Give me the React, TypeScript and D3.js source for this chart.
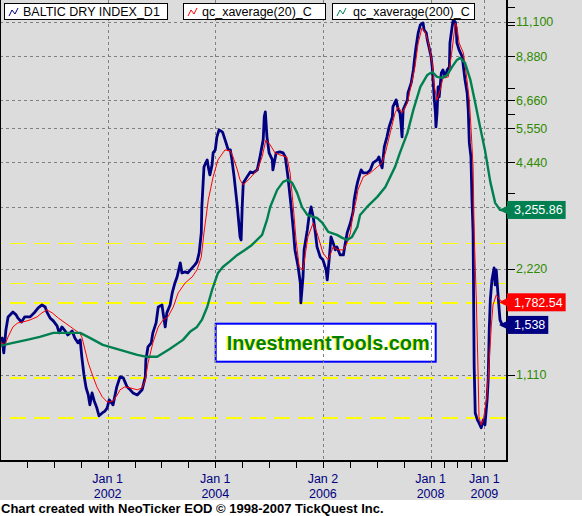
import React from 'react';
import * as d3 from 'd3';

// ---------- DATA (decimal year, index value) ----------
const bdiSeries: [number, number][] = [
  [2000.00,1395],[2000.04,1413],[2000.07,1282],[2000.11,1489],[2000.15,1620],[2000.24,1674],[2000.30,1642],[2000.33,1610],[2000.40,1568],[2000.46,1621],[2000.56,1621],[2000.65,1674],[2000.71,1719],[2000.78,1752],[2000.84,1729],[2000.87,1674],[2000.93,1610],[2000.99,1579],
  [2001.06,1528],[2001.10,1460],[2001.15,1518],[2001.21,1479],[2001.26,1441],[2001.34,1479],[2001.39,1413],[2001.45,1368],[2001.49,1395],[2001.52,1249],[2001.56,1110],[2001.60,1020],[2001.64,974],[2001.67,913],[2001.71,987],[2001.75,937],[2001.80,894],[2001.84,850],[2001.90,866],[2001.95,877],[2001.99,894],
  [2002.03,943],[2002.06,931],[2002.10,913],[2002.17,1027],[2002.23,1096],[2002.29,1089],[2002.36,1027],[2002.42,1007],[2002.47,987],[2002.55,974],[2002.64,1007],[2002.70,1096],[2002.71,1224],[2002.75,1333],[2002.81,1368],[2002.84,1460],[2002.90,1558],[2002.94,1729],
  [2003.01,1752],[2003.03,1664],[2003.07,1518],[2003.10,1664],[2003.16,1752],[2003.20,1895],[2003.25,2022],[2003.29,2103],[2003.35,2305],[2003.38,2159],[2003.44,2173],[2003.49,2159],[2003.57,2231],[2003.62,2275],[2003.66,2320],[2003.70,2460],[2003.74,2803],[2003.75,3321],[2003.79,4312],[2003.85,4513],[2003.87,4312],[2003.90,4093],[2003.94,4369],[2003.96,4724],
  [2004.00,4818],[2004.03,5246],[2004.07,5490],[2004.13,5419],[2004.14,5383],[2004.20,5042],[2004.24,4818],[2004.28,4818],[2004.31,4513],[2004.35,4040],[2004.41,3321],[2004.46,2731],[2004.48,2678],[2004.50,3321],[2004.52,3884],[2004.59,4040],[2004.65,4173],[2004.70,4145],[2004.78,4228],[2004.83,4602],[2004.89,5143],[2004.91,5974],[2004.93,6174],[2004.96,5246],
  [2005.00,4724],[2005.06,4513],[2005.07,4228],[2005.13,4724],[2005.20,4755],[2005.26,4724],[2005.30,4602],[2005.35,4040],[2005.41,3321],[2005.45,2859],[2005.48,2509],[2005.54,2245],[2005.58,2022],[2005.59,1775],[2005.63,2103],[2005.65,2509],[2005.71,2859],[2005.74,3110],[2005.78,3321],[2005.82,3110],[2005.86,2803],[2005.89,2558],[2005.95,2396],
  [2006.00,2350],[2006.06,2202],[2006.08,2063],[2006.12,2396],[2006.15,2731],[2006.19,2626],[2006.23,2509],[2006.26,2558],[2006.32,2428],[2006.38,2428],[2006.41,2592],[2006.45,2803],[2006.51,2991],[2006.56,3216],[2006.58,3477],[2006.62,3760],[2006.65,3935],[2006.71,4228],[2006.75,4145],[2006.82,4145],[2006.88,4228],[2006.93,4426],
  [2007.01,4513],[2007.04,4602],[2007.08,4369],[2007.10,4284],[2007.14,4913],[2007.19,5246],[2007.23,5598],[2007.29,5974],[2007.30,6378],[2007.36,6676],[2007.40,6255],[2007.43,6133],[2007.45,5746],[2007.47,5246],[2007.49,6255],[2007.57,6676],[2007.58,6986],[2007.64,7458],[2007.68,8119],[2007.70,8666],[2007.73,9431],[2007.77,10333],[2007.81,10885],[2007.86,11028],[2007.88,10536],[2007.92,10333],[2007.94,9873],[2007.97,9431],
  [2008.01,8836],[2008.03,8279],[2008.05,7458],[2008.07,6676],[2008.09,6133],[2008.10,5598],[2008.12,6133],[2008.14,7268],[2008.16,6806],[2008.20,7960],[2008.23,8119],[2008.27,7757],[2008.31,8119],[2008.35,8279],[2008.36,9681],[2008.40,10745],[2008.42,11246],[2008.46,11100],[2008.48,10333],[2008.49,9681],[2008.53,9250],[2008.59,8836],[2008.61,8279],[2008.64,7606],[2008.68,6986],[2008.70,6255],[2008.72,5042],[2008.75,4602],[2008.77,3477],[2008.79,2803],[2008.80,1810],[2008.81,1170],[2008.83,866],[2008.87,828],[2008.90,812],[2008.94,786],[2008.98,828],
  [2009.01,801],[2009.05,943],[2009.07,1074],[2009.09,1489],[2009.11,1810],[2009.14,2063],[2009.18,2231],[2009.20,1996],[2009.22,2202],[2009.26,1810],[2009.29,1589],[2009.33,1538],[2009.39,1538]
];

const ema20Series: [number, number][] = [
  [2000.00,1377],[2000.09,1350],[2000.15,1422],[2000.24,1518],[2000.33,1558],[2000.43,1568],[2000.56,1589],[2000.69,1621],[2000.78,1664],[2000.87,1696],[2000.97,1664],
  [2001.08,1610],[2001.21,1558],[2001.34,1508],[2001.49,1450],[2001.52,1422],[2001.58,1307],[2001.64,1200],[2001.73,1096],[2001.80,1027],[2001.90,962],[2001.99,931],
  [2002.04,931],[2002.10,937],[2002.19,980],[2002.23,1007],[2002.32,1027],[2002.42,1020],[2002.55,1007],[2002.64,1020],[2002.70,1074],[2002.75,1200],[2002.84,1368],[2002.94,1518],
  [2003.03,1589],[2003.12,1621],[2003.22,1729],[2003.31,1895],[2003.44,2022],[2003.57,2103],[2003.66,2202],[2003.74,2396],[2003.79,2803],[2003.87,3477],[2003.96,4040],
  [2004.05,4513],[2004.18,4818],[2004.28,4787],[2004.33,4602],[2004.41,4228],[2004.46,3961],[2004.52,3834],[2004.65,4013],[2004.78,4228],[2004.87,4602],[2004.94,5143],
  [2005.02,4977],[2005.11,4724],[2005.20,4663],[2005.33,4602],[2005.39,4145],[2005.45,3321],[2005.50,2678],[2005.56,2245],[2005.63,2202],[2005.72,2731],[2005.82,2991],[2005.89,2803],
  [2006.00,2460],[2006.10,2350],[2006.19,2558],[2006.28,2509],[2006.38,2509],[2006.45,2626],[2006.51,2803],[2006.56,3194],[2006.62,3477],[2006.65,3711],[2006.75,4040],[2006.88,4145],
  [2007.01,4312],[2007.10,4426],[2007.16,4724],[2007.25,5383],[2007.34,6133],[2007.40,6378],[2007.47,6133],[2007.57,6546],[2007.62,7126],[2007.71,8279],[2007.77,9681],[2007.84,10673],[2007.90,10398],[2007.96,9681],
  [2008.03,8495],[2008.07,7268],[2008.12,6676],[2008.18,7126],[2008.23,7706],[2008.33,7757],[2008.40,9250],[2008.46,11028],[2008.49,10745],[2008.53,9681],[2008.61,9070],[2008.66,7960],[2008.72,6676],[2008.75,5598],[2008.79,4312],[2008.81,2803],[2008.85,1810],[2008.88,1170],[2008.90,844],[2008.94,801],[2008.98,828],
  [2009.01,883],[2009.05,974],[2009.09,1224],[2009.13,1538],[2009.16,1752],[2009.22,1870],[2009.29,1810],[2009.35,1782.54]
];

const ema200Series: [number, number][] = [
  [2000.00,1341],[2000.24,1368],[2000.50,1395],[2000.74,1422],[2000.99,1460],[2001.25,1460],[2001.49,1460],[2001.67,1413],[2001.91,1350],
  [2002.23,1307],[2002.55,1265],[2002.73,1249],[2002.92,1249],[2003.16,1316],[2003.40,1395],[2003.53,1470],[2003.66,1518],[2003.75,1589],[2003.85,1729],[2003.94,1932],
  [2004.05,2159],[2004.14,2245],[2004.28,2335],[2004.41,2428],[2004.55,2509],[2004.68,2592],[2004.87,2767],[2004.96,3051],[2005.02,3321],[2005.15,3711],[2005.26,3910],[2005.35,3961],[2005.43,3884],[2005.52,3640],[2005.61,3321],[2005.71,3152],[2005.82,3110],[2005.89,3091],[2005.99,2991],
  [2006.10,2822],[2006.26,2767],[2006.36,2713],[2006.45,2678],[2006.54,2731],[2006.64,2915],[2006.69,3152],[2006.82,3321],[2007.01,3546],[2007.16,3784],[2007.34,4312],[2007.43,4724],[2007.57,5383],[2007.68,6255],[2007.81,7268],[2007.94,7858],
  [2008.03,8013],[2008.12,7757],[2008.22,7706],[2008.31,7858],[2008.40,8279],[2008.49,8666],[2008.55,8780],[2008.64,8495],[2008.74,7606],[2008.83,6546],[2008.92,5598],[2009.01,4818],[2009.11,3910],[2009.20,3410],[2009.29,3257],[2009.33,3255.86]
];

const legendNames = ['BALTIC DRY INDEX_D1', 'qc_xaverage(20)_C', 'qc_xaverage(200)_C'];
const priceTicks = [1110, 2220, 3330, 4440, 5550, 6660, 8880, 11100];
const priceLabels = [1110, 2220, 4440, 5550, 6660, 8880, 11100];
const priceMinorTicks = [12210, 10880, 7210, 6100, 3630];
const yearMajorTicks = [2002, 2004, 2006, 2008, 2009];
const yearTickDay = ['Jan 1', 'Jan 1', 'Jan 2', 'Jan 1', 'Jan 1'];
const yearMinorTicks = [2000.5, 2001, 2001.5, 2002.5, 2003, 2003.5, 2004.5, 2005, 2005.5, 2006.5, 2007, 2007.5, 2008.25, 2008.5, 2008.75];
const guideThin = [2626, 2023];
const guideThick = [1770, 1088, 838];
const watermark = 'InvestmentTools.com';
const footer = 'Chart created with NeoTicker EOD \u00A9 1998-2007 TickQuest Inc.';

// ---------- LAYOUT ----------
const W = 582, H = 516;
const PR = 507, PB = 461;
const FONT = "'Liberation Sans', Arial, Helvetica, sans-serif";
const BLUE = '#000080', RED = '#ff0000', GREEN = '#008050';

const textW = (s: string, size: number) => {
  let w = 0;
  for (const c of s) w += (c === ',' || c === '.') ? 0.278 : 0.556;
  return w * size;
};

export default function App() {
  const x = d3.scaleLinear().domain([2000, 2009.42]).range([0, PR]);
  const y = d3.scaleLog().domain([633, 12809]).range([PB, 0]);
  const line = d3.line<[number, number]>().x(d => x(d[0])).y(d => y(d[1]));

  const fmtInt = d3.format(',');
  const fmt2 = d3.format(',.2f');

  const lastBdi = bdiSeries[bdiSeries.length - 1][1];
  const last20 = ema20Series[ema20Series.length - 1][1];
  const last200 = ema200Series[ema200Series.length - 1][1];
  const tags = [
    { v: last200, text: fmt2(last200), color: GREEN },
    { v: last20, text: fmt2(last20), color: RED },
    { v: lastBdi, text: fmtInt(lastBdi), color: BLUE },
  ];

  const legendBoxes = [
    { x: 4, w: 163, tx: 23, color: BLUE },
    { x: 183, w: 142, tx: 202, color: RED },
    { x: 332, w: 142, tx: 353, color: GREEN },
  ];

  return (
    <svg width={W} height={H} style={{ position: 'absolute', left: 0, top: 0, display: 'block' }} fontFamily={FONT}>
      <rect x={0} y={0} width={W} height={H} fill="#dcdcdc" />
      <rect x={0} y={500} width={W} height={H - 500} fill="#ffffff" />

      {/* watermark box */}
      <rect x={215.7} y={323.7} width={220} height={38} fill="#ffffff" stroke="#0000ff" strokeWidth={2} />
      <text x={225.7} y={350} fontSize={20} fontWeight="bold" fill="#ffff00" textLength={203} lengthAdjust="spacingAndGlyphs">{watermark}</text>
      <text x={226.7} y={350} fontSize={20} fontWeight="bold" fill="#008000" textLength={203} lengthAdjust="spacingAndGlyphs">{watermark}</text>

      {/* gridlines */}
      <g stroke="#808080" strokeWidth={1} strokeDasharray="3 3" shapeRendering="crispEdges">
        {priceTicks.map(v => (
          <line key={'gy' + v} x1={0} x2={PR} y1={Math.round(y(v)) + 0.5} y2={Math.round(y(v)) + 0.5} />
        ))}
        {yearMajorTicks.map(t => (
          <line key={'gx' + t} x1={Math.round(x(t)) + 0.5} x2={Math.round(x(t)) + 0.5} y1={0} y2={PB} />
        ))}
      </g>

      {/* yellow guide levels */}
      <g stroke="#ffff00" strokeDasharray="16 8" strokeDashoffset={14.5} shapeRendering="crispEdges">
        {guideThin.map(v => (
          <line key={'yt' + v} x1={0} x2={PR} y1={Math.round(y(v)) + 0.5} y2={Math.round(y(v)) + 0.5} strokeWidth={1} />
        ))}
        {guideThick.map(v => (
          <line key={'yk' + v} x1={0} x2={PR} y1={Math.round(y(v))} y2={Math.round(y(v))} strokeWidth={2} />
        ))}
      </g>

      {/* series */}
      <path d={line(bdiSeries) || ''} fill="none" stroke={BLUE} strokeWidth={2.8} strokeLinejoin="round" />
      <path d={line(ema20Series) || ''} fill="none" stroke={RED} strokeWidth={1} />
      <path d={line(ema200Series) || ''} fill="none" stroke={GREEN} strokeWidth={2.4} strokeLinejoin="round" />

      {/* legend */}
      {legendBoxes.map((b, i) => (
        <g key={'lg' + i}>
          <rect x={b.x + 0.5} y={3.5} width={b.w} height={16} fill="#ffffff" stroke="#000000" strokeWidth={1} />
          <polyline
            points={`${b.x + 5},${16} ${b.x + 8},${10} ${b.x + 11},${14} ${b.x + 14},${8}`}
            fill="none" stroke={b.color} strokeWidth={1}
          />
          <text x={b.tx} y={16} fontSize={12.5} fill="#000000">{legendNames[i]}</text>
        </g>
      ))}

      {/* frame */}
      <g stroke="#000000" shapeRendering="crispEdges">
        <line x1={0.5} x2={0.5} y1={0} y2={PB} strokeWidth={1} />
        <line x1={PR} x2={PR} y1={0} y2={PB + 1} strokeWidth={2} />
        <line x1={0} x2={PR + 1} y1={PB} y2={PB} strokeWidth={2} />
      </g>

      {/* right axis */}
      <g stroke="#000000" strokeWidth={1} shapeRendering="crispEdges">
        {priceTicks.concat(priceMinorTicks).map(v => (
          <line key={'ty' + v} x1={PR} x2={PR + 8} y1={Math.round(y(v)) + 0.5} y2={Math.round(y(v)) + 0.5} />
        ))}
      </g>
      {priceLabels.map(v => (
        <text key={'ly' + v} x={516} y={y(v) + 4.5} fontSize={12.5} fill="#2f8a00">{fmtInt(v)}</text>
      ))}

      {/* bottom axis */}
      <g stroke="#000000" strokeWidth={1} shapeRendering="crispEdges">
        {yearMajorTicks.concat(yearMinorTicks).map(t => (
          <line key={'tx' + t} x1={Math.round(x(t)) + 0.5} x2={Math.round(x(t)) + 0.5} y1={PB + 1} y2={PB + 7} />
        ))}
      </g>
      {yearMajorTicks.map((t, i) => (
        <g key={'lx' + t} fill={BLUE} fontSize={12.5} textAnchor="middle">
          <text x={x(t)} y={483}>{yearTickDay[i]}</text>
          <text x={x(t)} y={498}>{String(t)}</text>
        </g>
      ))}

      {/* last-value tags */}
      {tags.map((t, i) => {
        const yy = y(t.v);
        const tw = textW(t.text, 12.5);
        return (
          <g key={'tag' + i}>
            <polygon points={`${PR - 8},${yy} ${PR},${yy - 4} ${PR},${yy + 4}`} fill={t.color} />
            <rect x={PR} y={yy - 9} width={tw + 10} height={18} fill={t.color} />
            <text x={PR + 7} y={yy + 4.5} fontSize={12.5} fill="#ffffff">{t.text}</text>
          </g>
        );
      })}

      {/* footer */}
      <text x={1} y={513} fontSize={13} fontWeight="bold" fill="#000000">{footer}</text>
    </svg>
  );
}
